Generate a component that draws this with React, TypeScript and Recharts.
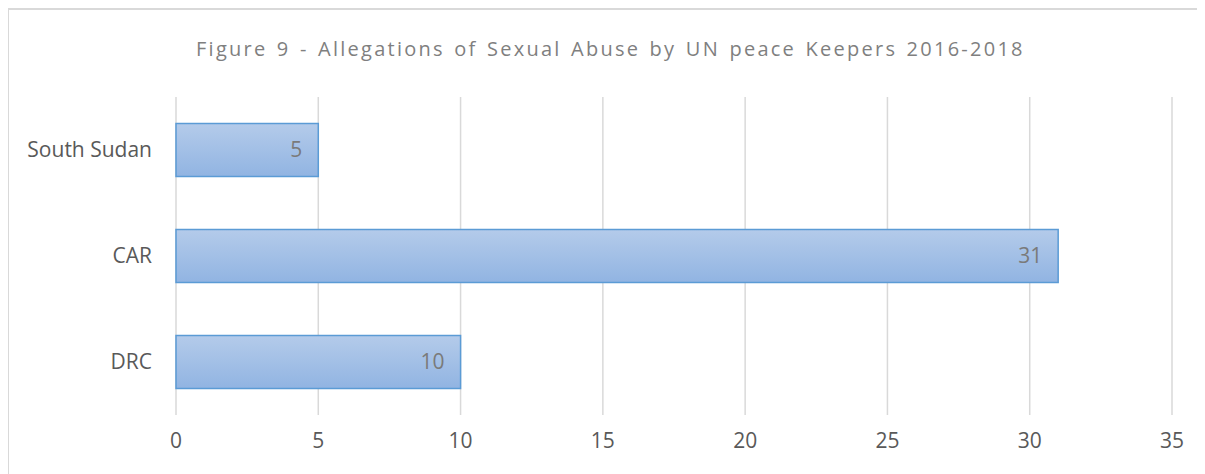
import React, { useEffect } from "react";
import {
  Bar,
  BarChart,
  CartesianGrid,
  LabelList,
  XAxis,
  YAxis,
} from "recharts";

const countries = ["South Sudan", "CAR", "DRC"];
const allegations = [5, 31, 10];
const xTicks = [0, 5, 10, 15, 20, 25, 30, 35];
const title = "Figure 9 - Allegations of Sexual Abuse by UN peace Keepers 2016-2018";

const data = countries.map((country, i) => ({ country, value: allegations[i] }));

const FONT = "'Open Sans', 'Liberation Sans', sans-serif";

const App = () => {
  useEffect(() => {
    document.body.style.overflow = "hidden";
  }, []);

  return (
    <div
      style={{
        position: "relative",
        width: 1205,
        height: 466,
        marginLeft: -1,
        borderLeft: "2px solid #d9d9d9",
        borderTop: "2px solid #d9d9d9",
        overflow: "hidden",
        fontFamily: FONT,
      }}
    >
      <svg
        width={1205}
        height={80}
        style={{ position: "absolute", left: -2, top: -2 }}
      >
        <text
          x={189}
          y={48}
          fontSize={20}
          fill="#7f7f7f"
          textLength={828}
          lengthAdjust="spacing"
          letterSpacing={1.5}
          wordSpacing={2}
          style={{ fontFamily: FONT, whiteSpace: "pre" }}
        >
          {title}
        </text>
      </svg>
      <div style={{ position: "absolute", left: -2, top: -2 }}>
        <BarChart
          width={1198}
          height={466}
          data={data}
          layout="vertical"
          margin={{ top: 89, right: 33, bottom: 29, left: 0 }}
          barCategoryGap="25%"
        >
          <defs>
            <linearGradient id="barFill" x1="0" y1="0" x2="0" y2="1">
              <stop offset="0%" stopColor="#b4cbea" />
              <stop offset="100%" stopColor="#91b4e2" />
            </linearGradient>
          </defs>
          <CartesianGrid horizontal={false} stroke="#d9d9d9" strokeWidth={1.5} />
          <XAxis
            type="number"
            domain={[0, 35]}
            ticks={xTicks}
            axisLine={false}
            tickLine={false}
            tickSize={0}
            tickMargin={18}
            height={30}
            tick={{ fill: "#595959", fontSize: 21, fontFamily: FONT }}
          />
          <YAxis
            type="category"
            dataKey="country"
            width={169}
            axisLine={false}
            tickLine={false}
            tickSize={0}
            tickMargin={24}
            tick={{ fill: "#595959", fontSize: 21, fontFamily: FONT }}
          />
          <Bar
            dataKey="value"
            fill="url(#barFill)"
            stroke="#5b9bd5"
            strokeWidth={1.5}
            isAnimationActive={false}
          >
            <LabelList
              dataKey="value"
              position="insideRight"
              offset={16}
              fill="#7a7a7a"
              fontSize={21}
              fontFamily={FONT}
            />
          </Bar>
        </BarChart>
      </div>
    </div>
  );
};

export default App;
